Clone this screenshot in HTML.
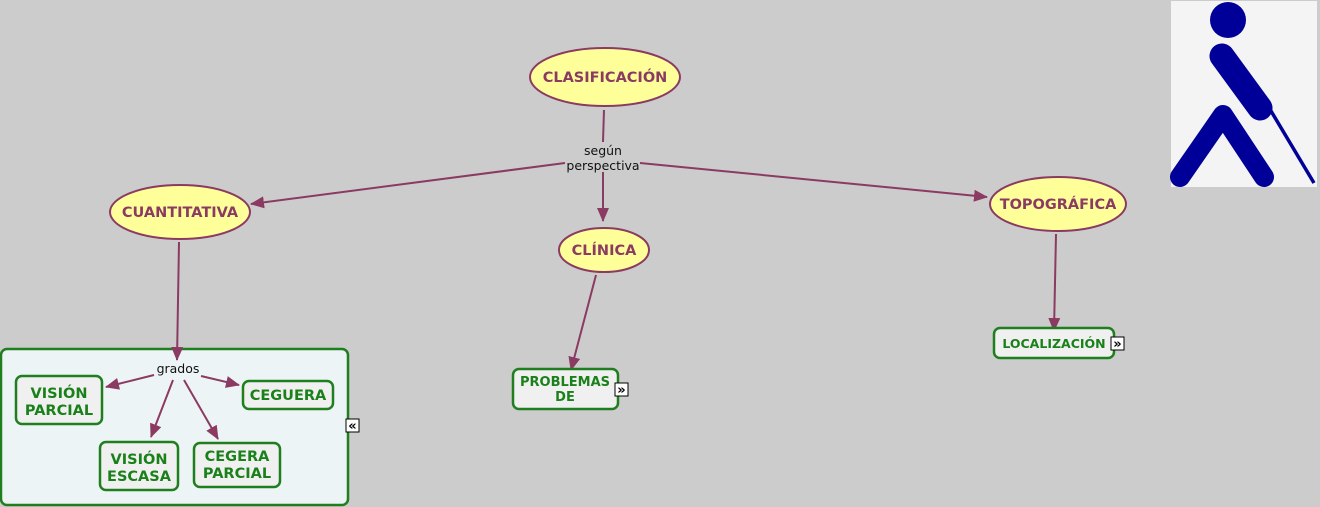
<!DOCTYPE html>
<html><head><meta charset="utf-8"><style>
html,body{margin:0;padding:0;background:#cccccc;}
svg{display:block;}
text{font-family:"DejaVu Sans","Liberation Sans",sans-serif;}
.e{fill:#ffff99;stroke:#8b3a62;stroke-width:2;}
.et{fill:#8b3a62;font-weight:bold;font-size:14.5px;text-anchor:middle;}
.r{fill:#f0f0f0;stroke:#1f7f1f;stroke-width:2.5;}
.rt{fill:#1a801a;font-weight:bold;font-size:14.5px;text-anchor:middle;}
.l{stroke:#8b3a62;stroke-width:2;fill:none;marker-end:url(#a);}
.ln{stroke:#8b3a62;stroke-width:2;fill:none;}
.lt{fill:#111;font-size:12.5px;text-anchor:middle;}
</style></head><body>
<svg width="1320" height="507" viewBox="0 0 1320 507">
<defs><marker id="a" markerWidth="14" markerHeight="12" refX="13" refY="6" orient="auto" markerUnits="userSpaceOnUse"><path d="M0,0 L14,6 L0,12 z" fill="#8b3a62"/></marker></defs>

<rect x="1" y="349" width="347" height="156" rx="6" fill="#edf4f6" stroke="#1f7f1f" stroke-width="2.5"/>

<path class="ln" d="M604,110 L603,142"/>
<path class="l" d="M603,172 L603,221"/>
<path class="l" d="M565,163 L251,204"/>
<path class="l" d="M640,163 L987,197"/>
<path class="l" d="M179,242 L177,360"/>
<path class="l" d="M596,275 L571,370"/>
<path class="l" d="M1056,234 L1054,331"/>
<path class="l" d="M154,375 L106,387"/>
<path class="l" d="M201,376 L239,385"/>
<path class="l" d="M173,380 L151,437"/>
<path class="l" d="M184,380 L218,439"/>

<text class="lt" x="603" y="155">según</text>
<text class="lt" x="603" y="170">perspectiva</text>
<text class="lt" x="178" y="373">grados</text>

<ellipse class="e" cx="605" cy="77" rx="75" ry="29"/>
<text class="et" x="605" y="82">CLASIFICACIÓN</text>
<ellipse class="e" cx="180" cy="212" rx="70" ry="27"/>
<text class="et" x="180" y="217">CUANTITATIVA</text>
<ellipse class="e" cx="604" cy="250" rx="45" ry="22"/>
<text class="et" x="604" y="255">CLÍNICA</text>
<ellipse class="e" cx="1058" cy="204" rx="68" ry="27"/>
<text class="et" x="1058" y="209">TOPOGRÁFICA</text>

<rect class="r" x="513" y="369" width="105" height="40" rx="6"/>
<text class="rt" x="565" y="386" style="font-size:13px">PROBLEMAS</text>
<text class="rt" x="565" y="401" style="font-size:13px">DE</text>
<rect class="r" x="994" y="328" width="120" height="30" rx="6"/>
<text class="rt" x="1054" y="348" style="font-size:12.5px">LOCALIZACIÓN</text>

<rect class="r" x="16" y="376" width="86" height="48" rx="6"/>
<text class="rt" x="59" y="398">VISIÓN</text>
<text class="rt" x="59" y="415">PARCIAL</text>
<rect class="r" x="243" y="381" width="90" height="28" rx="6"/>
<text class="rt" x="288" y="400">CEGUERA</text>
<rect class="r" x="100" y="442" width="78" height="48" rx="6"/>
<text class="rt" x="139" y="464">VISIÓN</text>
<text class="rt" x="139" y="481">ESCASA</text>
<rect class="r" x="194" y="443" width="86" height="44" rx="6"/>
<text class="rt" x="237" y="461">CEGERA</text>
<text class="rt" x="237" y="478">PARCIAL</text>

<rect x="615" y="383" width="13" height="13" fill="#fff" stroke="#000"/>
<text x="621.5" y="394" font-size="13" font-weight="bold" text-anchor="middle" fill="#000">»</text>
<rect x="1111" y="337" width="13" height="13" fill="#fff" stroke="#000"/>
<text x="1117.5" y="348" font-size="13" font-weight="bold" text-anchor="middle" fill="#000">»</text>
<rect x="346" y="419" width="13" height="13" fill="#fff" stroke="#000"/>
<text x="352.5" y="430" font-size="13" font-weight="bold" text-anchor="middle" fill="#000">«</text>

<rect x="1171" y="1" width="146" height="186" fill="#f4f4f4"/>
<circle cx="1228" cy="20" r="18" fill="#000099"/>
<path d="M1222,56 L1260,108" stroke="#000099" stroke-width="25" stroke-linecap="round" fill="none"/>
<path d="M1180,177 L1223,115 L1264,177" stroke="#000099" stroke-width="20" stroke-linecap="round" stroke-linejoin="round" fill="none"/>
<path d="M1268,106 L1314,183" stroke="#000099" stroke-width="3.5" fill="none"/>
</svg>
</body></html>
